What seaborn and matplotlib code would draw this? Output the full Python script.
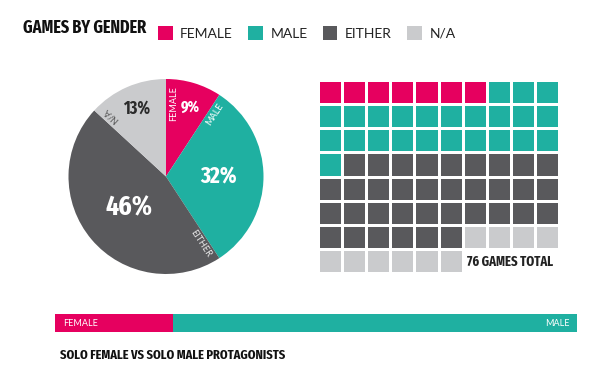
import os
import numpy as np
import matplotlib
matplotlib.use("Agg")
import matplotlib.pyplot as plt
from matplotlib import font_manager
from matplotlib.colors import ListedColormap
from matplotlib.patches import Patch
import seaborn as sns

# ---------------- data ----------------
categories = ["FEMALE", "MALE", "EITHER", "N/A"]
game_counts = [7, 24, 35, 10]
colors = ["#E6005F", "#1FB0A1", "#59595C", "#CACBCD"]
solo_labels = ["FEMALE", "MALE"]
solo_counts = [7, 24]
title = "GAMES BY GENDER"
subtitle = "SOLO FEMALE VS SOLO MALE PROTAGONISTS"
total_label = f"{sum(game_counts)} GAMES TOTAL"

sns.set_theme(style="white")
plt.rcParams["font.family"] = ["Lato", "DejaVu Sans"]


def find_condensed():
    files = [f.fname for f in font_manager.fontManager.ttflist]
    keys = ["extracondensed", "condensed", "narrow", "compressed", "cond"]
    best, best_score = None, -1
    for fn in files:
        b = os.path.basename(fn).lower()
        if "italic" in b or "oblique" in b:
            continue
        for k_i, k in enumerate(keys):
            if k in b:
                score = (len(keys) - k_i) * 10 + (5 if "bold" in b else 0) \
                    - (3 if "light" in b or "thin" in b else 0)
                if score > best_score:
                    best, best_score = fn, score
                break
    if best:
        return font_manager.FontProperties(fname=best)
    return font_manager.FontProperties(family="DejaVu Sans", weight="bold")


cond = find_condensed()


def fp(size):
    p = cond.copy()
    p.set_size(size)
    return p


W, H = 600, 378
fig = plt.figure(figsize=(6, 3.78), dpi=100)
fig.patch.set_facecolor("white")
renderer = fig.canvas.get_renderer()


def fx(px):
    return px / W


def fy(py):
    return 1 - py / H


def fit(t, target_w):
    w = t.get_window_extent(renderer).width
    if w > target_w:
        t.set_fontsize(t.get_fontsize() * target_w / w)


# ---------------- title + legend ----------------
t = fig.text(fx(23), fy(28), title, fontproperties=fp(23), color="#111111",
             ha="left", va="center")
fit(t, 124)
handles = [Patch(facecolor=c, edgecolor="none") for c in colors]
fig.legend(handles, categories, loc="center left", bbox_to_anchor=(fx(158), fy(33)),
           ncol=4, frameon=False, fontsize=10, handlelength=1.05, handleheight=1.15,
           handletextpad=0.55, columnspacing=1.1, borderpad=0, borderaxespad=0,
           labelcolor="#222222")

# ---------------- pie ----------------
cx, cy, r = 166, 176.5, 97.5
ax_pie = fig.add_axes([fx(cx - r), fy(cy + r), 2 * r / W, 2 * r / H])
ax_pie.pie(game_counts, colors=colors, startangle=90, counterclock=False,
           radius=1, wedgeprops=dict(linewidth=0))
ax_pie.set_xlim(-1, 1)
ax_pie.set_ylim(-1, 1)
ax_pie.set_aspect("auto")
ax_pie.axis("off")

total = sum(game_counts)
fracs = [c / total for c in game_counts]
starts = np.concatenate([[0], np.cumsum(fracs)[:-1]])
pct_radius = [0.75, 0.54, 0.50, 0.76]
pct_shift = [3, 0, 0, 0]  # small angular nudge (degrees, clockwise)
pct_size = [14, 18, 20, 14]
pct_width = [19, 37, 50, 27]
pct_color = ["white", "white", "white", "#2b2b2b"]
name_color = ["white", "white", "#e8e8e8", "#555555"]
for i, cat in enumerate(categories):
    mid = starts[i] + fracs[i] / 2
    th = np.deg2rad(90 - 360 * mid - pct_shift[i])
    t = ax_pie.text(pct_radius[i] * np.cos(th), pct_radius[i] * np.sin(th),
                    f"{round(fracs[i] * 100)}%", fontproperties=fp(pct_size[i]),
                    color=pct_color[i], ha="center", va="center")
    fit(t, pct_width[i])
    ths = 90 - 360 * starts[i]
    a = np.deg2rad(ths)
    off = 0.075
    x = 0.93 * np.cos(a) + off * np.sin(a)
    y = 0.93 * np.sin(a) - off * np.cos(a)
    ax_pie.text(x, y, cat, rotation=ths, rotation_mode="anchor", ha="right", va="center",
                fontsize=6.5, color=name_color[i])

# ---------------- waffle ----------------
n_rows, n_cols = 8, 10
cells = np.concatenate([np.full(c, i, dtype=float) for i, c in enumerate(game_counts)])
grid = np.full(n_rows * n_cols, np.nan)
grid[:len(cells)] = cells
grid = grid.reshape(n_rows, n_cols)
ax_w = fig.add_axes([fx(318), fy(273), (559 - 318) / W, (273 - 80) / H])
sns.heatmap(grid, ax=ax_w, cmap=ListedColormap(colors), vmin=-0.5, vmax=3.5, cbar=False,
            linewidths=1.9, linecolor="white", xticklabels=False, yticklabels=False)
ax_w.axis("off")
t = fig.text(fx(553), fy(262), total_label, fontproperties=fp(13), color="#222222",
             ha="right", va="center")
fit(t, 86)

# ---------------- stacked bar ----------------
ax_b = fig.add_axes([fx(55), fy(332), 522 / W, 18 / H])
left = 0
for lab, val, col in zip(solo_labels, solo_counts, colors[:2]):
    ax_b.barh(0, val, left=left, color=col, height=1, linewidth=0)
    left += val
ax_b.set_xlim(0, sum(solo_counts))
ax_b.set_ylim(-0.5, 0.5)
ax_b.axis("off")
ax_b.text(8 / 522, 0.5, solo_labels[0], transform=ax_b.transAxes, ha="left", va="center",
          fontsize=6.5, color="white")
ax_b.text(1 - 7 / 522, 0.5, solo_labels[1], transform=ax_b.transAxes, ha="right",
          va="center", fontsize=6.5, color="white")

t = fig.text(fx(60), fy(355), subtitle, fontproperties=fp(12), color="#111111",
             ha="left", va="center")
fit(t, 225)

fig.savefig("out.png", dpi=100, facecolor="white")
